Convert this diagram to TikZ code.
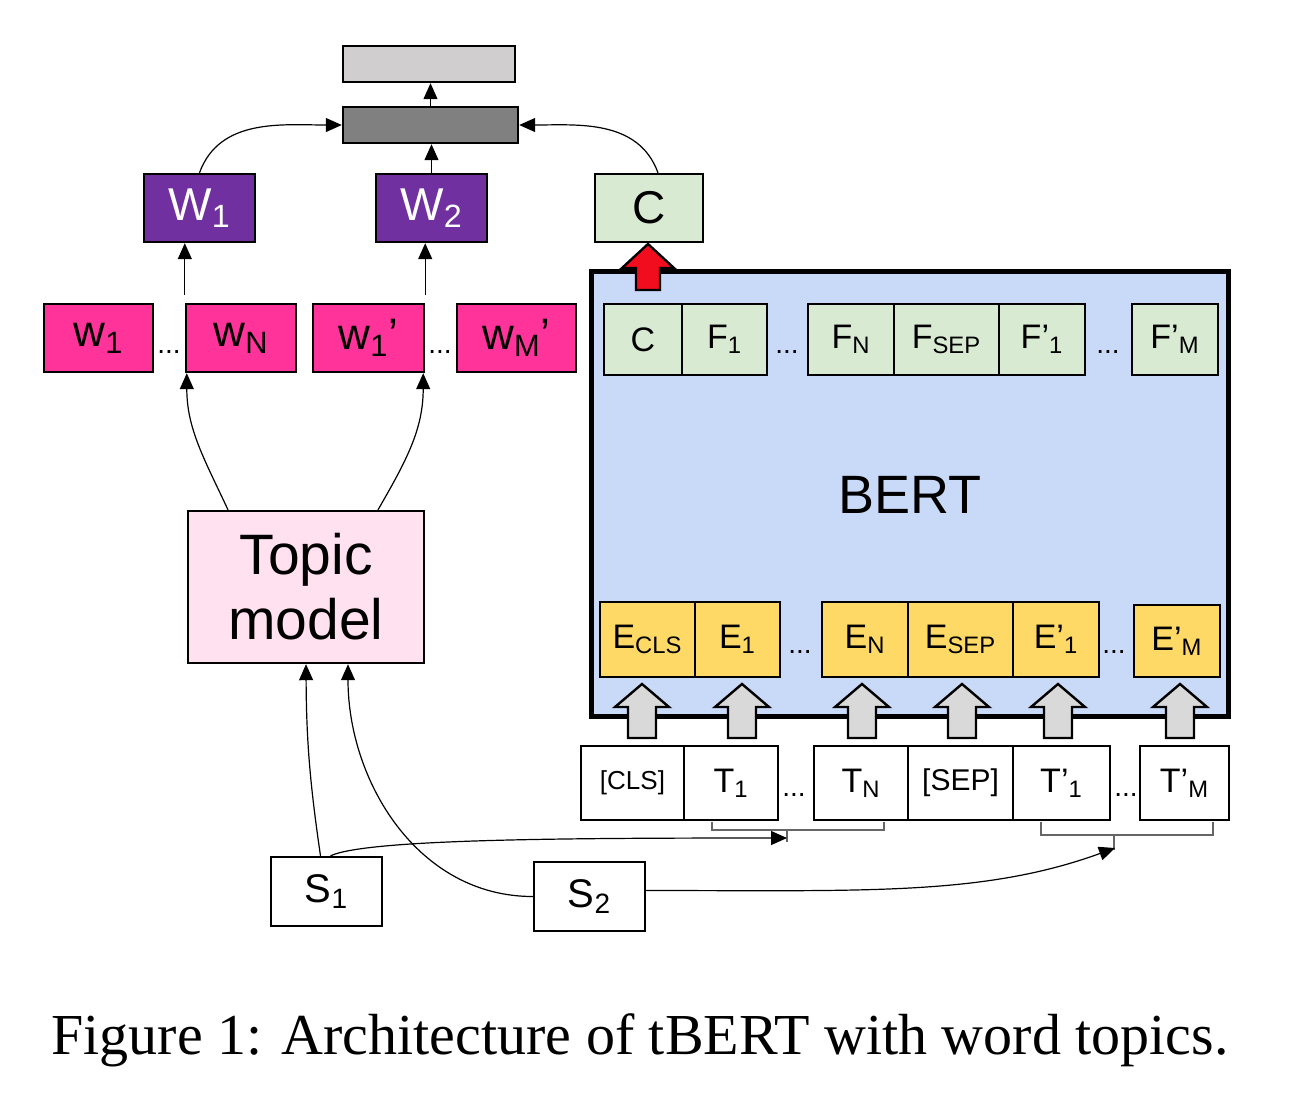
\documentclass[tikz,border=0pt]{standalone}
\usepackage{fontspec}
\setmainfont{Liberation Serif}
\setsansfont{Liberation Sans}
\usetikzlibrary{arrows.meta}
\definecolor{outgray}{HTML}{D0CECE}
\definecolor{combgray}{HTML}{808080}
\definecolor{tpurple}{HTML}{7030A0}
\definecolor{tpink}{HTML}{FF3399}
\definecolor{topicpink}{HTML}{FFE1F0}
\definecolor{bgreen}{HTML}{D9EAD3}
\definecolor{bblue}{HTML}{C9DAF8}
\definecolor{eyellow}{HTML}{FFD966}
\definecolor{agray}{HTML}{D9D9D9}
\definecolor{ared}{HTML}{F20D1E}
\newcommand{\fs}[1]{\fontsize{#1}{#1}\selectfont}
\begin{document}
\begin{tikzpicture}[x=0.5pt,y=-0.5pt,
  box/.style={draw,line width=1.2pt,inner sep=0pt,font=\sffamily},
  wbox/.style={box,fill=tpurple,text=white,minimum width=55.5pt,minimum height=34pt,font=\sffamily\fs{23}},
  pbox/.style={box,fill=tpink,minimum height=34pt,font=\sffamily\fs{22}},
  fbox/.style={box,fill=bgreen,minimum height=35.5pt,font=\sffamily\fs{17}},
  ebox/.style={box,fill=eyellow,minimum height=37.5pt,font=\sffamily\fs{17}},
  tbox/.style={box,fill=white,minimum height=37pt,font=\sffamily\fs{17}},
  sbox/.style={box,fill=white,minimum width=55.5pt,minimum height=34.5pt,font=\sffamily\fs{20}},
  dots/.style={font=\sffamily\fs{14},inner sep=0pt},
  arr/.style={-{Triangle[length=8pt,width=7pt]},line width=0.6pt},
  brk/.style={draw=black!60,line width=0.6pt}]
\useasboundingbox[fill=white] (0,0) rectangle (1301,1100);

% output layers
\node[box,fill=outgray,minimum width=86pt,minimum height=18pt] (out) at (429,64) {};
\node[box,fill=combgray,minimum width=87.5pt,minimum height=18pt] (comb) at (430.5,125) {};
\node[wbox] (W1) at (199.5,208) {W\textsubscript{1}};
\node[wbox] (W2) at (431.5,208) {W\textsubscript{2}};
\node[box,fill=bgreen,minimum width=54pt,minimum height=34pt,font=\sffamily\fs{23}] (Ctop) at (649,208) {C};

% word topics
\node[pbox,minimum width=54.5pt] (wa) at (98.5,338) {w\textsubscript{1}};
\node[pbox,minimum width=55pt] (wb) at (241,338) {w\textsubscript{N}};
\node[pbox,minimum width=55.5pt] (wc) at (368.5,338) {w\textsubscript{1}’};
\node[pbox,minimum width=59.5pt] (wd) at (516.5,338) {w\textsubscript{M}’};
\node[dots] (dw1) at (169,352) {...};
\node[dots] (dw2) at (440,352) {...};

\node[box,fill=topicpink,minimum width=118pt,minimum height=76pt,align=center,
  font=\sffamily\fontsize{28.5}{32.5}\selectfont] (topic) at (306,587) {Topic\\model};

% BERT
\node[draw,line width=2.5pt,fill=bblue,minimum width=318.5pt,minimum height=222.5pt] (bert) at (909.5,493.5) {};
\node[font=\sffamily\fs{27}] (bertlbl) at (910,495) {BERT};

\node[fbox,minimum width=39pt] (fc) at (643,339.5) {C};
\node[fbox,minimum width=42.5pt] (f1) at (724.5,339.5) {F\textsubscript{1}};
\node[fbox,minimum width=43pt] (fn) at (851,339.5) {F\textsubscript{N}};
\node[fbox,minimum width=52.5pt] (fsep) at (946.5,339.5) {F\textsubscript{SEP}};
\node[fbox,minimum width=43pt] (fp1) at (1042,339.5) {F’\textsubscript{1}};
\node[fbox,minimum width=43pt] (fpm) at (1175,339.5) {F’\textsubscript{M}};
\node[dots] (df1) at (787,352) {...};
\node[dots] (df2) at (1108,352) {...};

\node[ebox,minimum width=47.5pt] (ecls) at (647.5,639.5) {E\textsubscript{CLS}};
\node[ebox,minimum width=42.5pt] (e1) at (737.5,639.5) {E\textsubscript{1}};
\node[ebox,minimum width=43pt] (en) at (865,639.5) {E\textsubscript{N}};
\node[ebox,minimum width=52.5pt] (esep) at (960.5,639.5) {E\textsubscript{SEP}};
\node[ebox,minimum width=43pt] (ep1) at (1056,639.5) {E’\textsubscript{1}};
\node[ebox,minimum width=43pt,minimum height=36pt] (epm) at (1177,641) {E’\textsubscript{M}};
\node[dots] (de1) at (800,652) {...};
\node[dots] (de2) at (1114,652) {...};

% gray input arrows
\foreach \ax in {642,742,862,962,1058,1180}
  \draw[line width=1.2pt,fill=agray] (\ax-14,738) -- (\ax-14,707) -- (\ax-27,707) -- (\ax,684)
    -- (\ax+27,707) -- (\ax+14,707) -- (\ax+14,738) -- cycle;

% red output arrow
\draw[line width=1.2pt,fill=ared] (636,290) -- (636,268) -- (622,268) -- (648,244)
  -- (674,268) -- (660,268) -- (660,290) -- cycle;

% tokens
\node[tbox,minimum width=51.5pt,font=\sffamily\fs{13}] (tcls) at (632.5,783) {[CLS]};
\node[tbox,minimum width=47pt] (t1) at (731,783) {T\textsubscript{1}};
\node[tbox,minimum width=47pt] (tn) at (861,783) {T\textsubscript{N}};
\node[tbox,minimum width=52.5pt,font=\sffamily\fs{15}] (tsep) at (960.5,783) {[SEP]};
\node[tbox,minimum width=48.5pt] (tp1) at (1061.5,783) {T’\textsubscript{1}};
\node[tbox,minimum width=44.5pt] (tpm) at (1184.5,783) {T’\textsubscript{M}};
\node[dots] (dt1) at (794,795) {...};
\node[dots] (dt2) at (1126,795) {...};

% brackets under the two sentences
\draw[brk] (712,822) -- (712,830) -- (884,830) -- (884,822);
\draw[brk] (787,830) -- (787,842);
\coordinate (b1) at (787,838);
\draw[brk] (1041,822) -- (1041,835) -- (1213,835) -- (1213,822);
\draw[brk] (1114,835) -- (1114,850);
\coordinate (b2) at (1115,848);

% sentences
\node[sbox] (S1) at (326.5,891.5) {S\textsubscript{1}};
\node[sbox] (S2) at (589.5,896.5) {S\textsubscript{2}};

% connectors
\draw[arr] (comb.north) -- (comb.north |- out.south);
\draw[arr] (W2.north) -- (W2.north |- comb.south);
\draw[arr] (W1.north) to[out=70,in=180] (comb.west);
\draw[arr] ([xshift=4.5pt]Ctop.north) to[out=110,in=0] (comb.east);
\draw[arr] ([yshift=4pt]wb.north west) -- (wb.north west |- W1.south);
\draw[arr] ([yshift=4pt]wc.north east) -- (wc.north east |- W2.south);
\draw[arr] ([xshift=-39pt]topic.north) to[out=115,in=-90] ([xshift=1pt]wb.south west);
\draw[arr] ([xshift=36pt]topic.north) to[out=60,in=-90] ([xshift=-1pt]wc.south east);
\draw[arr] ([xshift=-3pt]S1.north) to[bend left=4] (topic.south);
\draw[arr] (S2.west) to[out=180,in=-90] ([xshift=21pt]topic.south);
\draw[arr] ([xshift=2pt]S1.north) .. controls +(25:20pt) and +(180:110pt) .. (b1);
\draw[arr] ([yshift=3pt]S2.east) .. controls +(0:110pt) and +(200:70pt) .. (b2);

% caption
\node[font=\rmfamily\fs{29}] (cap) at (640,1040) {Figure 1: Architecture of tBERT with word topics.};
\end{tikzpicture}
\end{document}
